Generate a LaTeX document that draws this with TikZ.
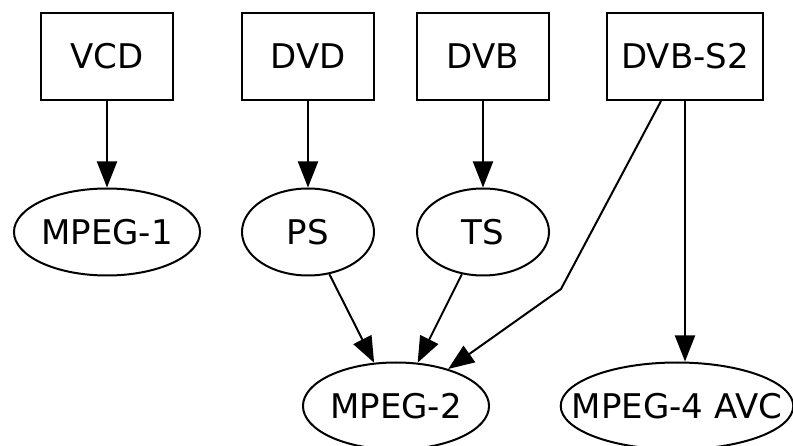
\documentclass[tikz,border=0pt]{standalone}
\usepackage{fontspec}
\setmainfont{DejaVu Sans}
\usetikzlibrary{shapes.geometric,arrows.meta}

\begin{document}
\begin{tikzpicture}[x=1pt,y=-1pt,
  every node/.style={font=\fontsize{34}{40}\selectfont},
  medium/.style={draw,line width=2pt,rectangle,minimum width=132pt,minimum height=87pt,inner xsep=14pt},
  format/.style={draw,line width=2pt,ellipse,inner sep=0pt,minimum width=132pt,minimum height=87pt},
  link/.style={line width=2pt,-{Triangle[length=26pt,width=20pt]}}]
\useasboundingbox (0,0) rectangle (793,446);

% media
\node[medium] (vcd) at (107,56.5) {VCD};
\node[medium] (dvd) at (308,56.5) {DVD};
\node[medium] (dvb) at (483,56.5) {DVB};
\node[medium] (s2) at (685,56.5) {DVB-S2};

% containers and codecs
\node[format] (mpeg1) at (107,232) {MPEG-1};
\node[format] (ps) at (308,232) {PS};
\node[format] (ts) at (483,232) {TS};
\node[format] (mpeg2) at (396,406) {MPEG-2};
\node[format,inner xsep=-23pt] (mpeg4) at (677,406) {MPEG-4 AVC};

% links
\draw[link] (vcd) -- (mpeg1);
\draw[link] (dvd) -- (ps);
\draw[link] (dvb) -- (ts);
\draw[link] (ps) -- (mpeg2);
\draw[link] (ts) -- (mpeg2);
\coordinate (kink) at (561,289);
\draw[link] ([xshift=-24pt]s2.south) -- (kink) -- (mpeg2);
\draw[link] (s2.south) -- (s2.south |- mpeg4.north);

\end{tikzpicture}
\end{document}
